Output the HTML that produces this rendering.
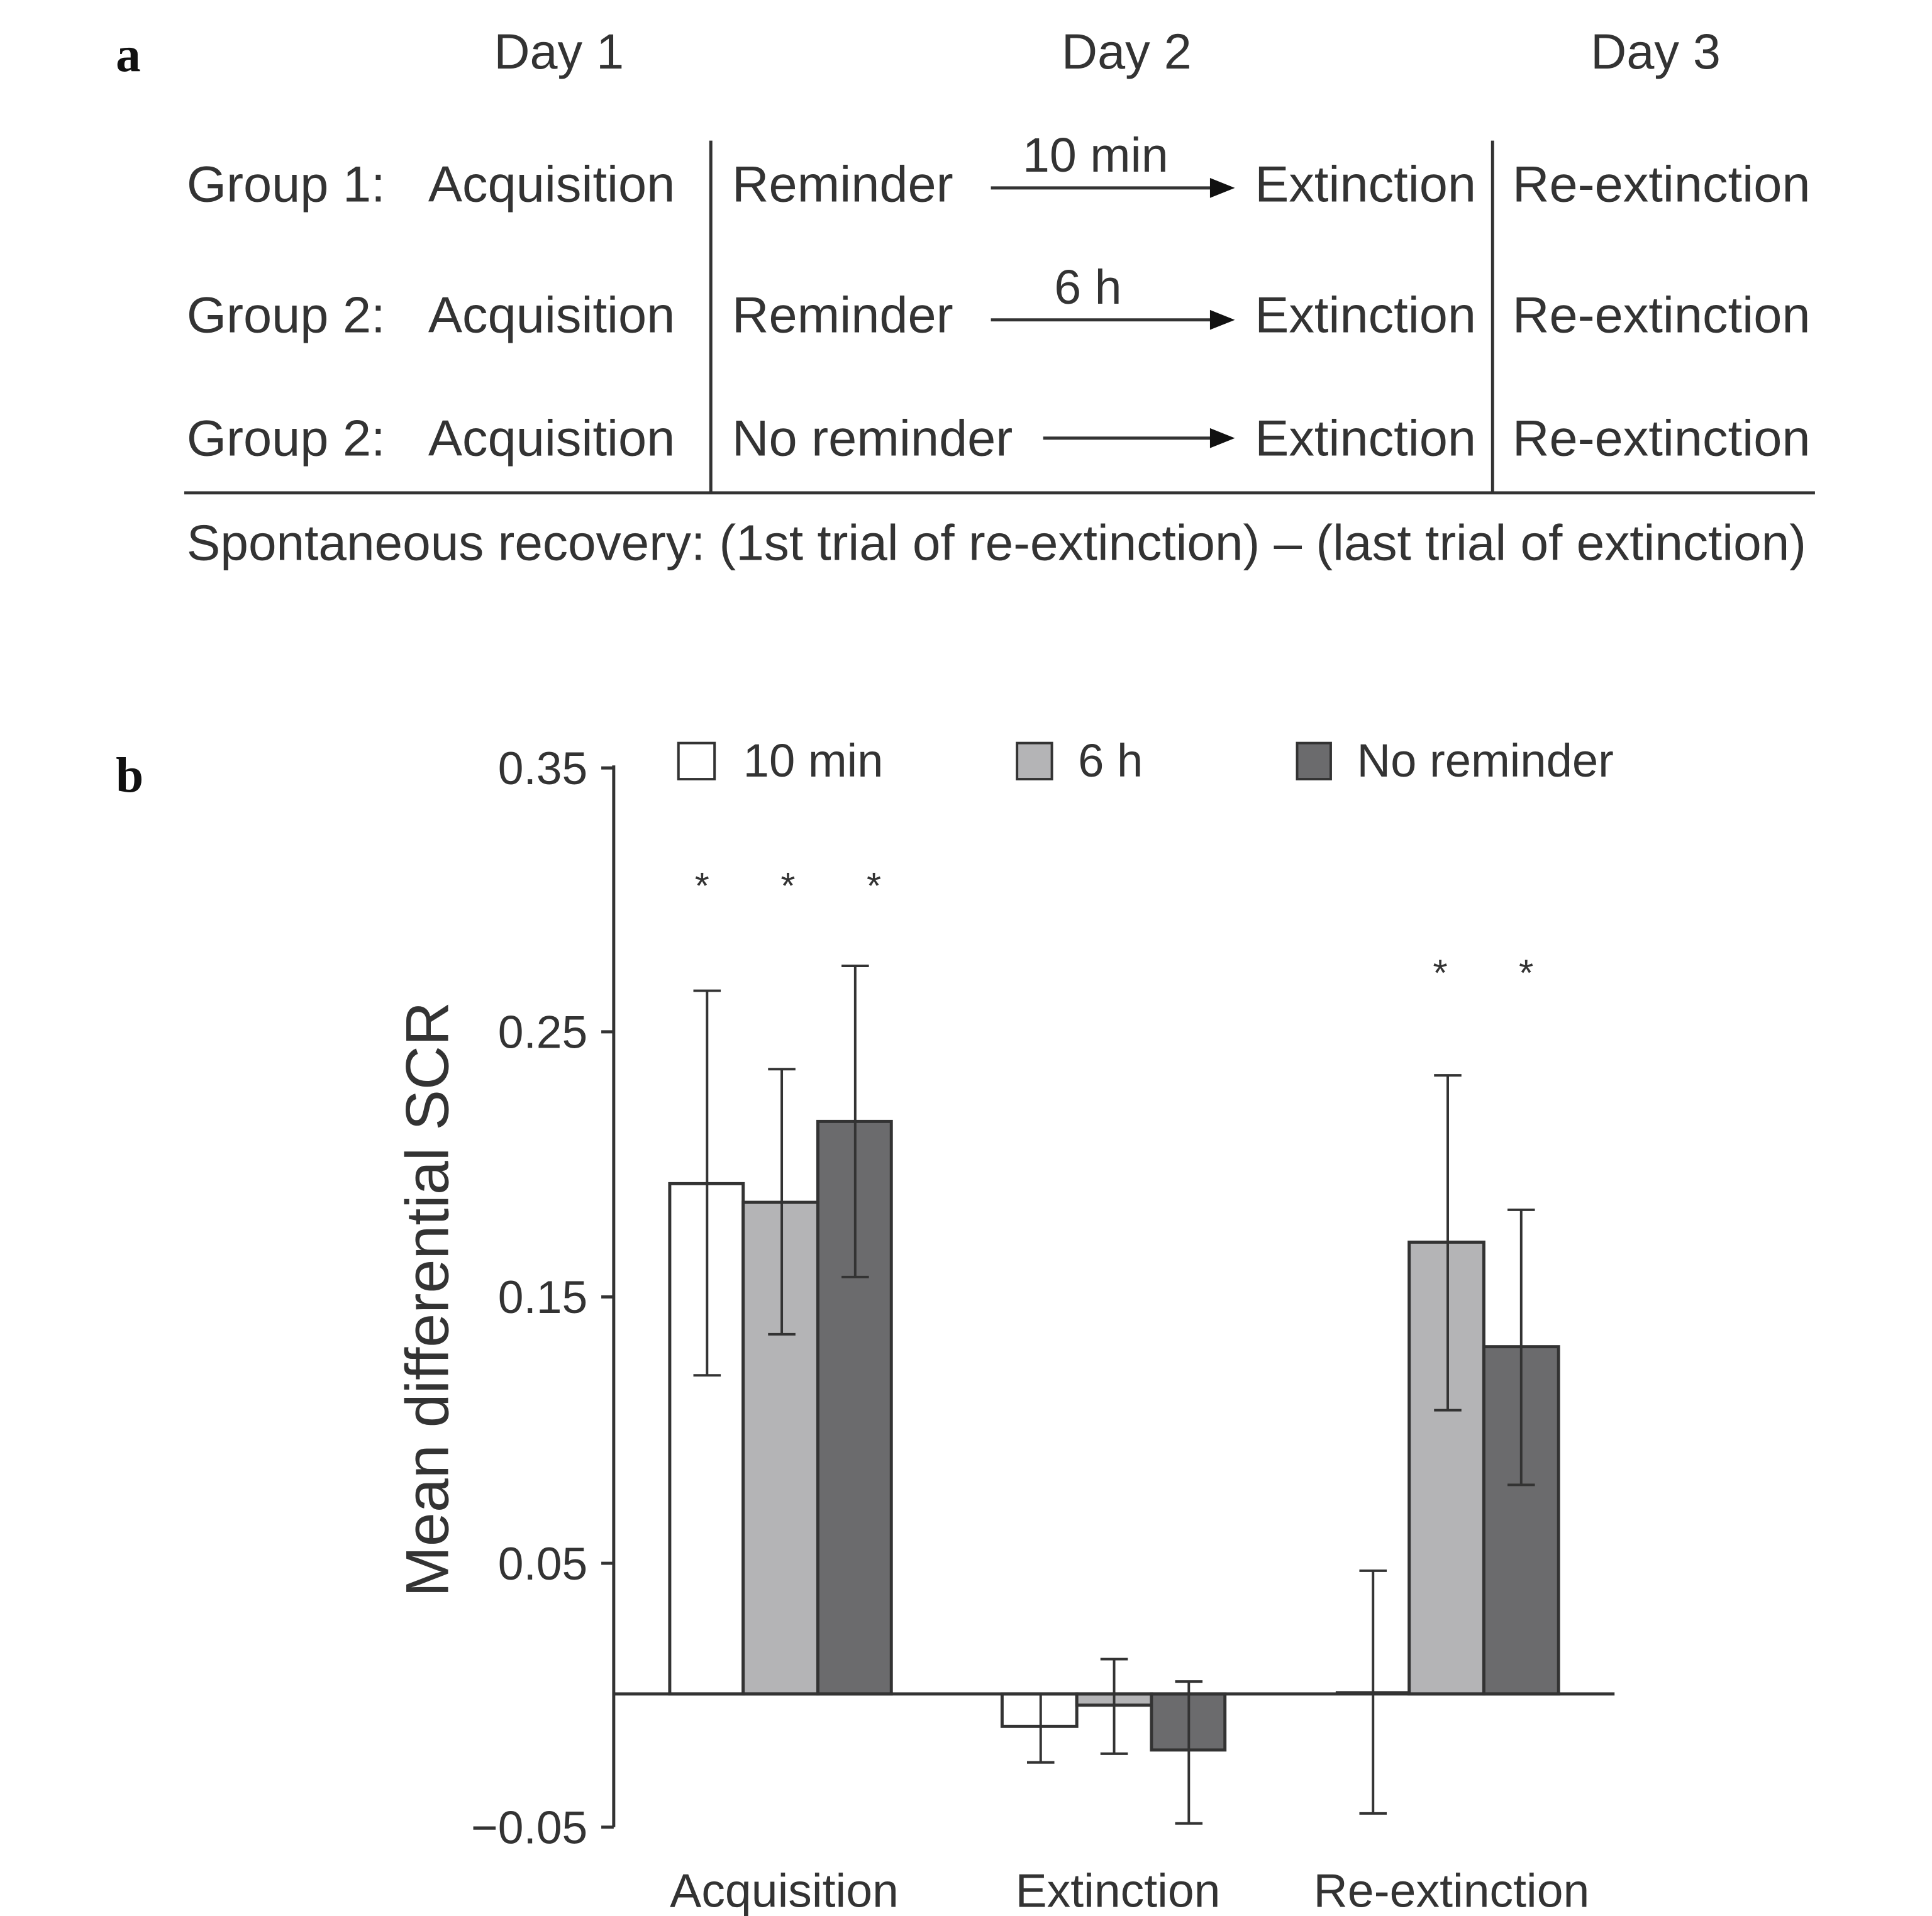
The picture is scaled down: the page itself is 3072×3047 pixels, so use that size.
<!DOCTYPE html>
<html><head><meta charset="utf-8"><style>html,body{margin:0;padding:0;background:#fff}svg{display:block}</style></head>
<body>
<svg width="3072" height="3047" viewBox="0 0 1552 1539.4" xmlns="http://www.w3.org/2000/svg" font-family="Liberation Sans, sans-serif" fill="#333">
<rect width="1552" height="1540" fill="#fff"/>
<!-- panel a -->
<text x="93" y="57" font-family="Liberation Serif, serif" font-weight="bold" font-size="40" fill="#111">a</text>
<g font-size="41">
<text x="449" y="55" text-anchor="middle" font-size="40">Day 1</text>
<text x="905" y="55" text-anchor="middle" font-size="40">Day 2</text>
<text x="1330" y="55" text-anchor="middle" font-size="40">Day 3</text>
<text x="150" y="162">Group 1:</text><text x="344" y="162">Acquisition</text><text x="588" y="162">Reminder</text><text x="1008" y="162">Extinction</text><text x="1215" y="162">Re-extinction</text>
<text x="150" y="267">Group 2:</text><text x="344" y="267">Acquisition</text><text x="588" y="267">Reminder</text><text x="1008" y="267">Extinction</text><text x="1215" y="267">Re-extinction</text>
<text x="150" y="366">Group 2:</text><text x="344" y="366">Acquisition</text><text x="588" y="366">No reminder</text><text x="1008" y="366">Extinction</text><text x="1215" y="366">Re-extinction</text>
<text x="880" y="138" text-anchor="middle" font-size="39">10 min</text>
<text x="874" y="244" text-anchor="middle" font-size="39">6 h</text>
<text x="150" y="450" font-size="40.5">Spontaneous recovery: (1st trial of re-extinction) – (last trial of extinction)</text>
</g>
<g stroke="#333" stroke-width="2.5">
<line x1="571" y1="113" x2="571" y2="396"/><line x1="1199" y1="113" x2="1199" y2="396"/>
<line x1="148" y1="396" x2="1458" y2="396"/>
<line x1="796" y1="151" x2="975" y2="151"/><line x1="796" y1="257" x2="975" y2="257"/><line x1="838" y1="352" x2="975" y2="352"/>
</g>
<polygon points="972,143 992,151 972,159" fill="#111"/>
<polygon points="972,249 992,257 972,265" fill="#111"/>
<polygon points="972,344 992,352 972,360" fill="#111"/>
<!-- panel b -->
<text x="93" y="636" font-family="Liberation Serif, serif" font-weight="bold" font-size="40" fill="#111">b</text>
<g font-size="37.5">
<rect x="545" y="597" width="29" height="29" fill="#fff" stroke="#333" stroke-width="2"/><text x="597" y="624">10 min</text>
<rect x="817" y="597" width="28" height="29" fill="#b4b4b6" stroke="#333" stroke-width="2"/><text x="866" y="624">6 h</text>
<rect x="1042" y="597" width="27" height="29" fill="#6b6b6d" stroke="#333" stroke-width="2"/><text x="1090" y="624">No reminder</text>
</g>
<g font-size="37">
<g text-anchor="end"><text x="472" y="630">0.35</text><text x="472" y="842">0.25</text><text x="472" y="1055">0.15</text><text x="472" y="1269">0.05</text><text x="472" y="1481">−0.05</text></g>
</g>
<g font-size="38" text-anchor="middle"><text x="630" y="1532">Acquisition</text><text x="898" y="1532">Extinction</text><text x="1166" y="1532">Re-extinction</text></g>
<text transform="translate(360,1044) rotate(-90)" text-anchor="middle" font-size="49">Mean differential SCR</text>
<g stroke="#333" stroke-width="2.5">
<rect x="538" y="951" width="59" height="410" fill="#fff"/>
<rect x="597" y="966" width="60" height="395" fill="#b4b4b6"/>
<rect x="657" y="901" width="59" height="460" fill="#6b6b6d"/>
<rect x="805" y="1361" width="60" height="26" fill="#fff"/>
<rect x="865" y="1361" width="60" height="9" fill="#b4b4b6"/>
<rect x="925" y="1361" width="59" height="45" fill="#6b6b6d"/>
<rect x="1132" y="998" width="60" height="363" fill="#b4b4b6"/>
<rect x="1192" y="1082" width="60" height="279" fill="#6b6b6d"/>
<line x1="493" y1="615" x2="493" y2="1468"/>
<line x1="483" y1="617" x2="493" y2="617"/><line x1="483" y1="829" x2="493" y2="829"/><line x1="483" y1="1042" x2="493" y2="1042"/><line x1="483" y1="1256" x2="493" y2="1256"/><line x1="483" y1="1468" x2="493" y2="1468"/>
<line x1="493" y1="1361" x2="1297" y2="1361"/>
<line x1="1073" y1="1360" x2="1132" y2="1360"/>
</g>
<g stroke="#333" stroke-width="2">
<path d="M568 796V1105M557 796H579M557 1105H579"/>
<path d="M628 859V1072M617 859H639M617 1072H639"/>
<path d="M687 776V1026M676 776H698M676 1026H698"/>
<path d="M836 1361V1416M825 1416H847"/>
<path d="M895 1333V1409M884 1333H906M884 1409H906"/>
<path d="M955 1351V1465M944 1351H966M944 1465H966"/>
<path d="M1103 1262V1457M1092 1262H1114M1092 1457H1114"/>
<path d="M1163 864V1133M1152 864H1174M1152 1133H1174"/>
<path d="M1222 972V1193M1211 972H1233M1211 1193H1233"/>
</g>
<g font-size="30" text-anchor="middle"><text x="564" y="722">*</text><text x="633" y="722">*</text><text x="702" y="722">*</text><text x="1157" y="792">*</text><text x="1226" y="792">*</text></g>
</svg>
</body></html>
